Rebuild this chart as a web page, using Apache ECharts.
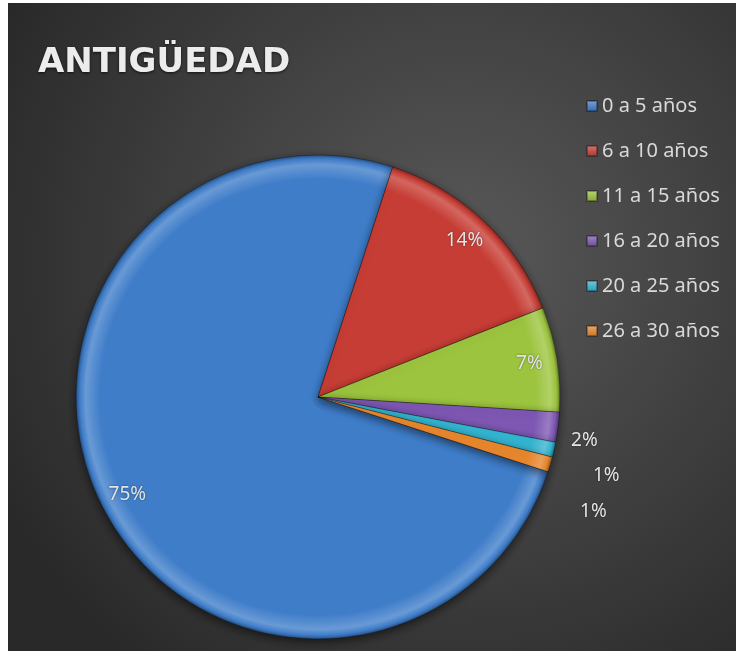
<!DOCTYPE html>
<html>
<head>
<meta charset="utf-8">
<script src="https://cdn.jsdelivr.net/npm/echarts@6/dist/echarts.min.js"></script>
<style>
html, body { margin: 0; padding: 0; background: #fff; }
#main { position: absolute; left: 8px; top: 3px; width: 728px; height: 648px; }
</style>
</head>
<body>
<div id="main"></div>
<script>
var categories = ['0 a 5 años', '6 a 10 años', '11 a 15 años', '16 a 20 años', '20 a 25 años', '26 a 30 años'];
var values = [75, 14, 7, 2, 1, 1];
var colors = ['#3f7dc9', '#c63d35', '#9cc43e', '#7e57b3', '#34b6d2', '#e8872c'];
// small nudges for the outside labels (Excel spreads them a bit)
var labelNudge = [[0, 0], [0, 0], [0, 0], [0, 12], [26, 24], [17, 45]];

var cx = 310, cy = 394, R = 242;

function mix(hex, target, amt) {
    var r = parseInt(hex.slice(1, 3), 16), g = parseInt(hex.slice(3, 5), 16), b = parseInt(hex.slice(5, 7), 16);
    r = Math.round(r + (target - r) * amt);
    g = Math.round(g + (target - g) * amt);
    b = Math.round(b + (target - b) * amt);
    return 'rgb(' + r + ',' + g + ',' + b + ')';
}
// bevel look: light rim near the edge, darker outline
function bevel(c) {
    return new echarts.graphic.RadialGradient(cx, cy, R, [
        { offset: 0, color: c },
        { offset: 0.9, color: c },
        { offset: 0.96, color: mix(c, 255, 0.22) },
        { offset: 0.985, color: c },
        { offset: 1, color: mix(c, 0, 0.35) }
    ], true);
}

var chart = echarts.init(document.getElementById('main'));

var pieData = [];
var ringData = [];
for (var i = 0; i < categories.length; i++) {
    pieData.push({
        name: categories[i],
        value: values[i],
        itemStyle: { color: bevel(colors[i]) },
        label: { show: i >= 3 }
    });
    ringData.push({
        name: categories[i],
        value: values[i],
        itemStyle: { color: 'rgba(0,0,0,0)' },
        label: { show: i < 3 }
    });
}

var legendData = categories.map(function (n, i) {
    return {
        name: n,
        itemStyle: {
            color: new echarts.graphic.LinearGradient(0, 0, 0, 1, [
                { offset: 0, color: mix(colors[i], 255, 0.3) },
                { offset: 1, color: mix(colors[i], 0, 0.15) }
            ])
        }
    };
});

var labelText = {
    color: '#e4e4e4',
    fontSize: 19,
    fontFamily: 'Noto Sans',
    textShadowColor: 'rgba(0,0,0,0.5)',
    textShadowBlur: 2
};

option = {
    backgroundColor: new echarts.graphic.RadialGradient(0.62, 0.4, 0.8, [{
        offset: 0,
        color: '#595959'
    }, {
        offset: 1,
        color: '#292929'
    }]),
    animation: false,
    title: {
        text: 'ANTIGÜEDAD',
        left: 25,
        top: 38,
        textStyle: {
            color: '#ececec',
            fontSize: 34,
            fontWeight: 'bold',
            fontFamily: 'DejaVu Sans',
            textShadowColor: 'rgba(0,0,0,0.7)',
            textShadowBlur: 3,
            textShadowOffsetY: 1
        }
    },
    legend: {
        orient: 'vertical',
        left: 573,
        top: 87,
        itemGap: 23,
        itemWidth: 10,
        itemHeight: 10,
        itemTextGap: 7,
        icon: 'rect',
        data: legendData,
        textStyle: {
            color: '#d9d9d9',
            fontSize: 20,
            lineHeight: 22,
            fontFamily: 'Noto Sans'
        }
    },
    series: [{
        type: 'pie',
        center: [cx, cy],
        radius: [0, R],
        startAngle: -18,
        clockwise: true,
        avoidLabelOverlap: false,
        data: pieData,
        itemStyle: {
            borderColor: 'rgba(0,0,0,0.3)',
            borderWidth: 1,
            shadowBlur: 10,
            shadowOffsetY: 3,
            shadowColor: 'rgba(0,0,0,0.55)'
        },
        label: Object.assign({ position: 'outside', formatter: '{d}%' }, labelText),
        labelLine: { show: false, length: 8, length2: 0 },
        labelLayout: function (p) {
            var n = labelNudge[p.dataIndex];
            return { dx: n[0], dy: n[1] };
        },
        emphasis: { scale: false }
    }, {
        // transparent ring, only used to place the big labels near the rim
        type: 'pie',
        center: [cx, cy],
        radius: [190, 232],
        startAngle: -18,
        clockwise: true,
        silent: true,
        legendHoverLink: false,
        avoidLabelOverlap: false,
        data: ringData,
        label: Object.assign({ position: 'inside', formatter: '{d}%' }, labelText),
        labelLine: { show: false }
    }]
};

chart.setOption(option, true);
</script>
</body>
</html>
